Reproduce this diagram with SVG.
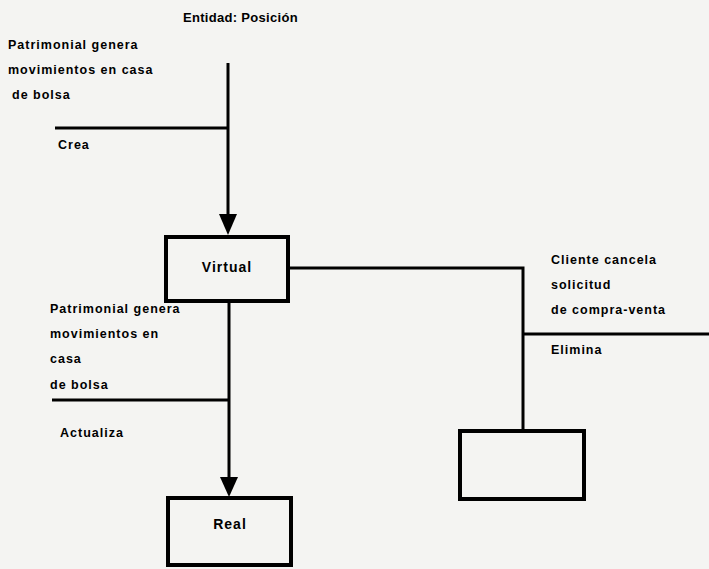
<svg xmlns="http://www.w3.org/2000/svg" width="709" height="569" viewBox="0 0 709 569">
  <defs>
    <style>
      .lbl { font-family: "Liberation Sans", Arial, sans-serif; font-weight: bold; font-size: 12.5px; fill: #000; letter-spacing: 1px; }
      .title { font-size: 13px; letter-spacing: 0.3px; }
      .name { font-size: 14px; letter-spacing: 1px; }
      .box { fill: none; stroke: #000; stroke-width: 4; }
      .wire { fill: none; stroke: #000; stroke-width: 3; }
      .head { fill: #000; }
    </style>
  </defs>

  <rect width="709" height="569" fill="#f4f4f2"/>

  <text class="lbl title" x="183" y="22">Entidad: Posición</text>

  <!-- connectors -->
  <g id="connectors">
    <line class="wire" x1="228" y1="63" x2="228" y2="216"/>
    <line class="wire" x1="55" y1="128" x2="228" y2="128"/>
    <line class="wire" x1="229" y1="301" x2="229" y2="479"/>
    <line class="wire" x1="52" y1="400" x2="229" y2="400"/>
    <polyline class="wire" points="288,268 523,268 523,429"/>
    <line class="wire" x1="523" y1="334" x2="709" y2="334"/>
    <path class="head" d="M219,214 L237,214 L228,235 Z"/>
    <path class="head" d="M220,477 L238,477 L229,497 Z"/>
  </g>

  <!-- connector labels -->
  <g id="labels">
    <text class="lbl" x="8" y="49">Patrimonial genera</text>
    <text class="lbl" x="8" y="74">movimientos en casa</text>
    <text class="lbl" x="12" y="99">de bolsa</text>
    <text class="lbl" x="58" y="149">Crea</text>

    <text class="lbl" x="50" y="313">Patrimonial genera</text>
    <text class="lbl" x="50" y="338">movimientos en</text>
    <text class="lbl" x="50" y="363">casa</text>
    <text class="lbl" x="50" y="389">de bolsa</text>
    <text class="lbl" x="60" y="437">Actualiza</text>

    <text class="lbl" x="551" y="264">Cliente cancela</text>
    <text class="lbl" x="551" y="289">solicitud</text>
    <text class="lbl" x="551" y="314">de compra-venta</text>
    <text class="lbl" x="551" y="354">Elimina</text>
  </g>

  <g id="virtual">
    <rect class="box" x="166" y="237" width="122" height="64"/>
    <text class="lbl name" x="227" y="272" text-anchor="middle">Virtual</text>
  </g>

  <g id="real">
    <rect class="box" x="168" y="498" width="123" height="67"/>
    <text class="lbl name" x="230" y="529" text-anchor="middle">Real</text>
  </g>

  <g id="unnamed">
    <rect class="box" x="460" y="431" width="124" height="68"/>
  </g>
</svg>
